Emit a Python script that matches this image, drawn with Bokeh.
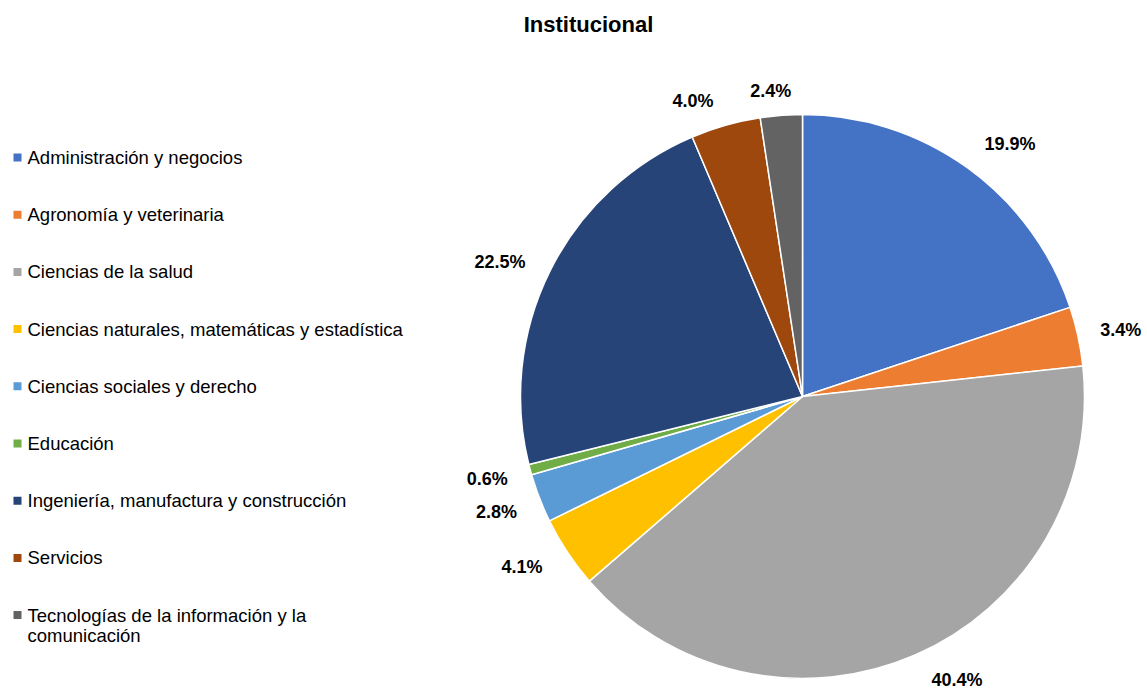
import math
from bokeh.plotting import figure
from bokeh.models import Range1d, ColumnDataSource
from bokeh.core.properties import value
from bokeh.embed import file_html
from bokeh.resources import INLINE

# ---- data ----
categories = [
    "Administración y negocios",
    "Agronomía y veterinaria",
    "Ciencias de la salud",
    "Ciencias naturales, matemáticas y estadística",
    "Ciencias sociales y derecho",
    "Educación",
    "Ingeniería, manufactura y construcción",
    "Servicios",
    "Tecnologías de la información y la\ncomunicación",
]
percentages = [19.9, 3.4, 40.4, 4.1, 2.8, 0.6, 22.5, 4.0, 2.4]
colors = ["#4472C4", "#ED7D31", "#A5A5A5", "#FFC000", "#5B9BD5",
          "#70AD47", "#264478", "#9E480E", "#636363"]
title_text = "Institucional"

# ---- layout (pixels) ----
W, H = 1147, 690
cx, cy, R = 802, H - 396, 282
label_r = [327, 325, 323, 328, 327, 326, 331, 315, 307]
label_nudge_deg = [3.6, 0.6, -5.0, 2.3, 0.5, 0.3, -2.6, -4.5, -1.6]

p = figure(width=W, height=H, x_range=Range1d(0, W), y_range=Range1d(0, H),
           output_backend="svg", toolbar_location=None, min_border=0,
           background_fill_color="white", border_fill_color="white")
p.axis.visible = False
p.grid.visible = False
p.outline_line_color = None

total = sum(percentages)
starts, ends, lx, ly, labels = [], [], [], [], []
cum = 0.0
for i, v in enumerate(percentages):
    a0 = math.pi / 2 - 2 * math.pi * cum / total
    cum += v
    a1 = math.pi / 2 - 2 * math.pi * cum / total
    starts.append(a0)
    ends.append(a1)
    mid = (a0 + a1) / 2 - math.radians(label_nudge_deg[i])
    lx.append(cx + label_r[i] * math.cos(mid))
    ly.append(cy + label_r[i] * math.sin(mid))
    labels.append(f"{v:.1f}%")

src = ColumnDataSource(dict(start=starts, end=ends, color=colors))
p.wedge(x=cx, y=cy, radius=R, start_angle="start", end_angle="end",
        direction="clock", fill_color="color", line_color="white",
        line_width=1.5, source=src)

p.text(x=lx, y=ly, text=labels, text_align="center", text_baseline="middle",
       text_font=value("Liberation Sans"), text_font_size="18px",
       text_font_style="bold", text_color="#000000")

# title
p.text(x=[588], y=[H - 24], text=[title_text], text_align="center",
       text_baseline="middle", text_font=value("Liberation Sans"),
       text_font_size="22px", text_font_style="bold", text_color="#000000")

# legend
row0, row_step, line_h = H - 157, 57.2, 20.5
sq_x, sq_size, txt_x = 17, 8, 27
sqx, sqy, tx, ty, tt = [], [], [], [], []
for i, (c, name) in enumerate(zip(colors, categories)):
    yrow = row0 - i * row_step
    sqx.append(sq_x)
    sqy.append(yrow)
    for j, line in enumerate(name.split("\n")):
        tx.append(txt_x)
        ty.append(yrow - j * line_h)
        tt.append(line)
p.rect(x=sqx, y=sqy, width=sq_size, height=sq_size, fill_color=colors,
       line_color=None)
p.text(x=tx, y=ty, text=tt, text_align="left", text_baseline="middle",
       text_font=value("Liberation Sans"), text_font_size="18.5px",
       text_color="#000000")

open("out.html", "w").write(file_html(p, INLINE))
